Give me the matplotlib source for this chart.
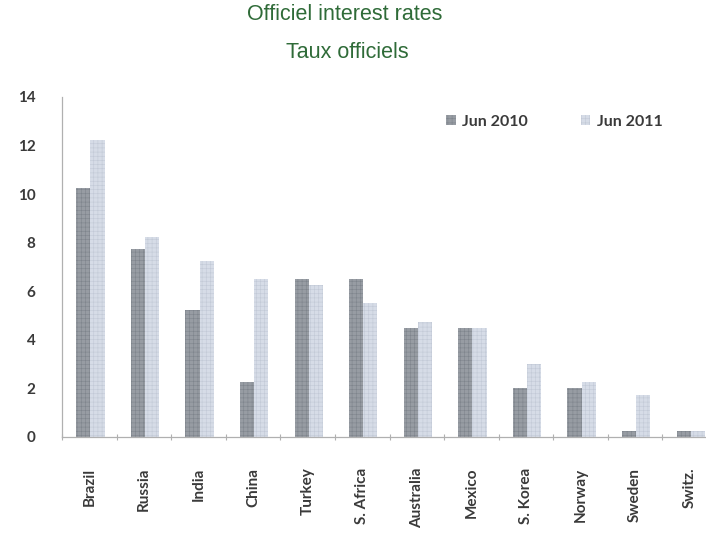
import matplotlib
matplotlib.use("Agg")
import matplotlib.pyplot as plt
import numpy as np

# Official policy rates, %
countries = ["Brazil", "Russia", "India", "China", "Turkey", "S. Africa",
             "Australia", "Mexico", "S. Korea", "Norway", "Sweden", "Switz."]
jun_2010 = [10.25, 7.75, 5.25, 2.25, 6.5, 6.5, 4.5, 4.5, 2.0, 2.0, 0.25, 0.25]
jun_2011 = [12.25, 8.25, 7.25, 6.5, 6.25, 5.5, 4.75, 4.5, 3.0, 2.25, 1.75, 0.25]
series_labels = ["Jun 2010", "Jun 2011"]
y_ticks = [0, 2, 4, 6, 8, 10, 12, 14]

plt.rcParams["hatch.linewidth"] = 0.4

W, H = 706, 533
fig = plt.figure(figsize=(W / 100, H / 100), dpi=100)
fig.patch.set_facecolor("white")

ax = fig.add_axes([62 / W, 96 / H, 655 / W, 340 / H])

x = np.arange(len(countries))
bw = 0.26
dark_fc, dark_hc = "#979ca3", "#7e848c"
light_fc, light_hc = "#d6dce7", "#c2c9d6"

b1 = ax.bar(x - bw / 2 + 0.02, jun_2010, width=bw, color=dark_fc,
            edgecolor=dark_hc, linewidth=0, hatch="++++")
for p in b1:
    p._hatch_color = matplotlib.colors.to_rgba(dark_hc)
b2 = ax.bar(x + bw / 2 + 0.02, jun_2011, width=bw, color=light_fc,
            edgecolor=light_hc, linewidth=0, hatch="++++")
for p in b2:
    p._hatch_color = matplotlib.colors.to_rgba(light_hc)

ax.set_xlim(-0.5, len(countries) - 0.5)
ax.set_ylim(0, 14)

for side in ("top", "right"):
    ax.spines[side].set_visible(False)
for side in ("left", "bottom"):
    ax.spines[side].set_color("#b0b0b0")
    ax.spines[side].set_linewidth(0.9)

text_col = "#3a3a3a"
bold_font = "Lato"

ax.set_yticks(y_ticks)
ax.set_yticklabels([str(v) for v in y_ticks], fontfamily=bold_font,
                   fontweight="bold", fontsize=11, color=text_col)
ax.tick_params(axis="y", length=0, pad=19)

ax.set_xticks(x)
ax.set_xticklabels(countries, rotation=90, fontfamily=bold_font,
                   fontweight="bold", fontsize=11, color=text_col)
ax.set_xticks(np.arange(len(countries) + 1) - 0.5, minor=True)
ax.tick_params(axis="x", which="major", length=0, pad=22)
ax.tick_params(axis="x", which="minor", length=4, direction="inout",
               color="#b0b0b0", width=0.8)

leg = ax.legend([b1, b2], series_labels, loc="upper left",
                bbox_to_anchor=(370 / 655, 0.99), ncol=2, frameon=False,
                handlelength=0.6, handleheight=0.6, handletextpad=0.4,
                columnspacing=3.3,
                prop={"family": bold_font, "weight": "bold", "size": 11.5})
for t in leg.get_texts():
    t.set_color(text_col)

title_col = "#2f6b38"
fig.text(345 / W, 1 - 15 / H, "Officiel interest rates", ha="center",
         va="center", fontsize=15.5, color=title_col, family="Liberation Sans")
fig.text(347 / W, 1 - 53 / H, "Taux officiels", ha="center",
         va="center", fontsize=15.5, color=title_col, family="Liberation Sans")

fig.savefig("out.png", dpi=100, facecolor="white")
